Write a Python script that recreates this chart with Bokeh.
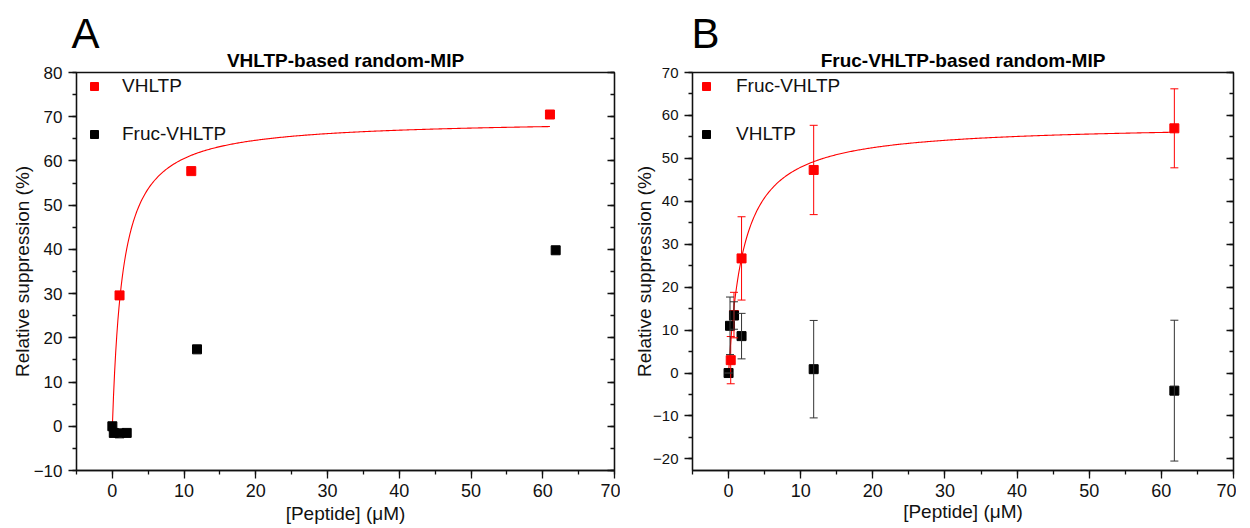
import numpy as np
from bokeh.plotting import figure
from bokeh.models import (Range1d, LinearAxis, SingleIntervalTicker, Legend, LegendItem,
                          Whisker, ColumnDataSource, TeeHead, Title, CustomJSTickFormatter)
from bokeh.layouts import row
from bokeh.embed import file_html
from bokeh.resources import INLINE

# ---------------- data ----------------
# Panel A: VHLTP-based random-MIP
A_vhltp_x = [1.0, 11.0, 61.0]
A_vhltp_y = [29.6, 57.7, 70.5]
A_fruc_x = [0.0, 0.2, 1.0, 2.0, 11.8, 61.8]
A_fruc_y = [0.0, -1.5, -1.6, -1.5, 17.4, 39.8]
A_fit_bmax = 69.4
A_fit_kd = 1.46
A_fit_xmax = 61.0

# Panel B: Fruc-VHLTP-based random-MIP
B_fruc_x = [0.3, 0.75, 1.8, 11.8, 61.8]
B_fruc_y = [3.0, 13.5, 26.7, 47.3, 57.0]
B_fruc_err = [5.5, 5.3, 9.7, 10.4, 9.2]
B_vhltp_x = [0.0, 0.2, 0.75, 1.8, 11.8, 61.8]
B_vhltp_y = [0.0, 11.0, 13.4, 8.6, 0.9, -4.1]
B_vhltp_err = [0.0, 6.7, 3.2, 5.3, 11.35, 16.4]
B_fit_bmax = 58.0
B_fit_kd = 2.1
B_fit_xmax = 61.8

FONT = "Liberation Sans"
RED = "#ff0000"
BLACK = "#000000"
INK = "#111111"
FIG_H = 528
TOP = 72


def style_axes(p, ytick_size, ylab_standoff, xtick_standoff, xlab_standoff):
    for ax in (p.xaxis[0], p.yaxis[0]):
        ax.ticker = SingleIntervalTicker(interval=10, num_minor_ticks=2)
        ax.major_tick_out = 8
        ax.major_tick_in = 0
        ax.minor_tick_out = 4
        ax.minor_tick_in = 0
        ax.axis_line_color = INK
        ax.axis_line_width = 1.3
        ax.major_tick_line_color = INK
        ax.major_tick_line_width = 1.3
        ax.minor_tick_line_color = INK
        ax.minor_tick_line_width = 1.3
        ax.major_label_text_font = FONT
        ax.major_label_text_color = INK
        ax.axis_label_text_font = FONT
        ax.axis_label_text_font_style = "normal"
        ax.axis_label_text_color = INK
        ax.axis_label_text_font_size = "19px"
    p.yaxis[0].major_label_text_font_size = ytick_size
    p.xaxis[0].major_label_text_font_size = "18px"
    p.yaxis[0].major_label_standoff = 6
    p.xaxis[0].major_label_standoff = xtick_standoff
    p.yaxis[0].axis_label = "Relative suppression (%)"
    p.yaxis[0].axis_label_standoff = ylab_standoff
    p.xaxis[0].axis_label = "[Peptide] (\u03bcM)"
    p.xaxis[0].axis_label_standoff = xlab_standoff
    # right mirror axis with inward ticks and no labels
    r = LinearAxis(ticker=SingleIntervalTicker(interval=10, num_minor_ticks=2),
                   formatter=CustomJSTickFormatter(code="return ''"),
                   major_tick_in=7, major_tick_out=0, minor_tick_in=4, minor_tick_out=0,
                   major_label_standoff=0,
                   axis_line_color=INK, axis_line_width=1.3,
                   major_tick_line_color=INK, major_tick_line_width=1.3,
                   minor_tick_line_color=INK, minor_tick_line_width=1.3)
    p.add_layout(r, "right")
    p.xgrid.visible = False
    p.ygrid.visible = False
    p.outline_line_color = INK
    p.outline_line_width = 1.3
    p.outline_line_alpha = 1.0


def make_panel(width, bl, br, fh, ymin, ymax, letter, letter_dx, title, ytick_size,
               ylab_standoff, xtick_standoff, xlab_standoff):
    bb = FIG_H - TOP - fh
    p = figure(width=width, height=FIG_H, x_range=Range1d(-5, 70), y_range=Range1d(ymin, ymax),
               output_backend="svg", toolbar_location=None,
               min_border_left=bl, min_border_right=br, min_border_top=TOP, min_border_bottom=bb)
    p.background_fill_color = "white"
    p.border_fill_color = "white"
    style_axes(p, ytick_size, ylab_standoff, xtick_standoff, xlab_standoff)
    # panel letter (outermost) and chart title (next to the frame)
    p.title = Title(text=letter, align="left", offset=letter_dx, text_font=FONT,
                    text_font_size="42px", text_font_style="normal", text_color="#000000",
                    standoff=-21)
    p.add_layout(Title(text=title, align="center", text_font=FONT, text_font_size="19px",
                       text_font_style="bold", text_color="#000000", standoff=3), "above")
    return p


def add_legend(p, items, gw, standoff):
    leg = Legend(items=items, location="top_left", border_line_color=None,
                 background_fill_alpha=0, glyph_width=gw, glyph_height=20, label_height=22,
                 label_text_font=FONT, label_text_font_size="19px", label_text_color=INK,
                 label_standoff=standoff, spacing=26, padding=8, margin=3)
    p.add_layout(leg)


# ---------------- Panel A ----------------
pA = make_panel(620, 76, 6, 398, -10, 80, "A", -5, "VHLTP-based random-MIP", "17px", -2, 5, 3)
xa = np.linspace(0, A_fit_xmax, 400)
pA.line(xa, A_fit_bmax * xa / (A_fit_kd + xa), line_color=RED, line_width=1.1)
ra = pA.scatter(A_vhltp_x, A_vhltp_y, marker="square", size=9, fill_color=RED, line_color=RED)
rb = pA.scatter(A_fruc_x, A_fruc_y, marker="square", size=9, fill_color=BLACK, line_color=BLACK)
add_legend(pA, [LegendItem(label="VHLTP", renderers=[ra]),
                LegendItem(label="Fruc-VHLTP", renderers=[rb])], 30, 13)

# ---------------- Panel B ----------------
pB = make_panel(616, 72, 3, 401, -22.7, 70, "B", -1, "Fruc-VHLTP-based random-MIP", "15px", -5, 5, 1)
xb = np.linspace(0, B_fit_xmax, 400)
pB.line(xb, B_fit_bmax * xb / (B_fit_kd + xb), line_color=RED, line_width=1.1)

src_fr = ColumnDataSource(dict(x=B_fruc_x, y=B_fruc_y,
                               lo=[y - e for y, e in zip(B_fruc_y, B_fruc_err)],
                               hi=[y + e for y, e in zip(B_fruc_y, B_fruc_err)]))
src_vh = ColumnDataSource(dict(x=B_vhltp_x, y=B_vhltp_y,
                               lo=[y - e for y, e in zip(B_vhltp_y, B_vhltp_err)],
                               hi=[y + e for y, e in zip(B_vhltp_y, B_vhltp_err)]))
wr = Whisker(source=src_fr, base="x", lower="lo", upper="hi", dimension="height",
             line_color=RED, line_width=1,
             upper_head=TeeHead(size=8, line_color=RED, line_width=1),
             lower_head=TeeHead(size=8, line_color=RED, line_width=1), level="glyph")
wb = Whisker(source=src_vh, base="x", lower="lo", upper="hi", dimension="height",
             line_color="#333333", line_width=1,
             upper_head=TeeHead(size=8, line_color="#333333", line_width=1),
             lower_head=TeeHead(size=8, line_color="#333333", line_width=1), level="glyph")
pB.add_layout(wr)
rbr = pB.scatter("x", "y", source=src_fr, marker="square", size=9, fill_color=RED, line_color=RED)
pB.add_layout(wb)
rbb = pB.scatter("x", "y", source=src_vh, marker="square", size=9, fill_color=BLACK, line_color=BLACK)
add_legend(pB, [LegendItem(label="Fruc-VHLTP", renderers=[rbr]),
                LegendItem(label="VHLTP", renderers=[rbb])], 22, 19)

layout = row(pA, pB, spacing=0)
open("out.html", "w").write(file_html(layout, INLINE))
